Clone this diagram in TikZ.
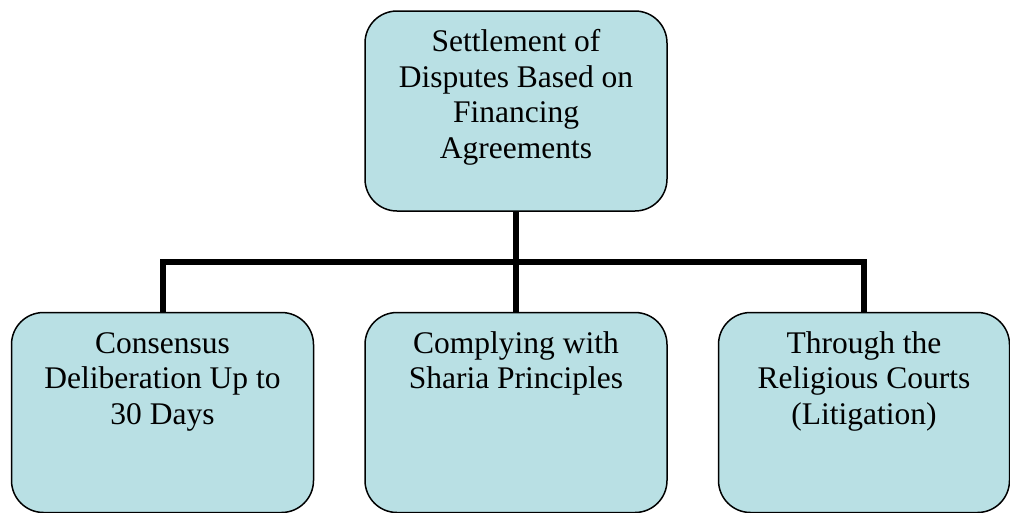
\documentclass[tikz,border=0pt]{standalone}
\usepackage{fontspec}
\setmainfont{Liberation Serif}
\newfontfamily\boxfont{Liberation Serif}
\usepackage{xcolor}
\usetikzlibrary{calc}
\usetikzlibrary{positioning}
\definecolor{boxfill}{RGB}{185,224,228}

\newcommand{\boxtext}[2][296pt]{\begin{minipage}[c][200pt][t]{#1}\centering
  \boxfont\fontsize{31.5}{35.5}\selectfont\vspace*{16pt}\strut #2\end{minipage}}

\begin{document}
\begin{tikzpicture}[x=1pt,y=-1pt,node distance=100pt,semithick]
  \tikzstyle{box}=[rectangle, rounded corners=32pt, fill=boxfill, draw=black, line width=1.5pt,
                   inner sep=0pt, minimum width=302pt, minimum height=200pt, text=black]
  \tikzstyle{bar}=[line width=6pt, draw=black]
  \useasboundingbox (0,0) rectangle (1010,512);

  \node[box] (root) at (516,111) {\boxtext{Settlement of\\ Disputes Based on\\ Financing\\ Agreements}};
  \node[box] (c2) [below=100pt of root] {\boxtext{Complying with\\ Sharia Principles}};
  \node[box] (c1) [left=50pt of c2] {\boxtext{Consensus\\ Deliberation Up to\\ 30 Days}};
  \node[box, minimum width=291pt] (c3) [right=50pt of c2] {\boxtext[287pt]{Through the\\ Religious Courts\\ (Litigation)}};

  \coordinate (hub) at ($(root.south)!0.5!(c2.north)$);

  \draw[bar] (root) -- (c2);
  \draw[bar] (c1.north) -- (c1.north |- hub) -- (c3.north |- hub) -- (c3.north);
\end{tikzpicture}
\end{document}
